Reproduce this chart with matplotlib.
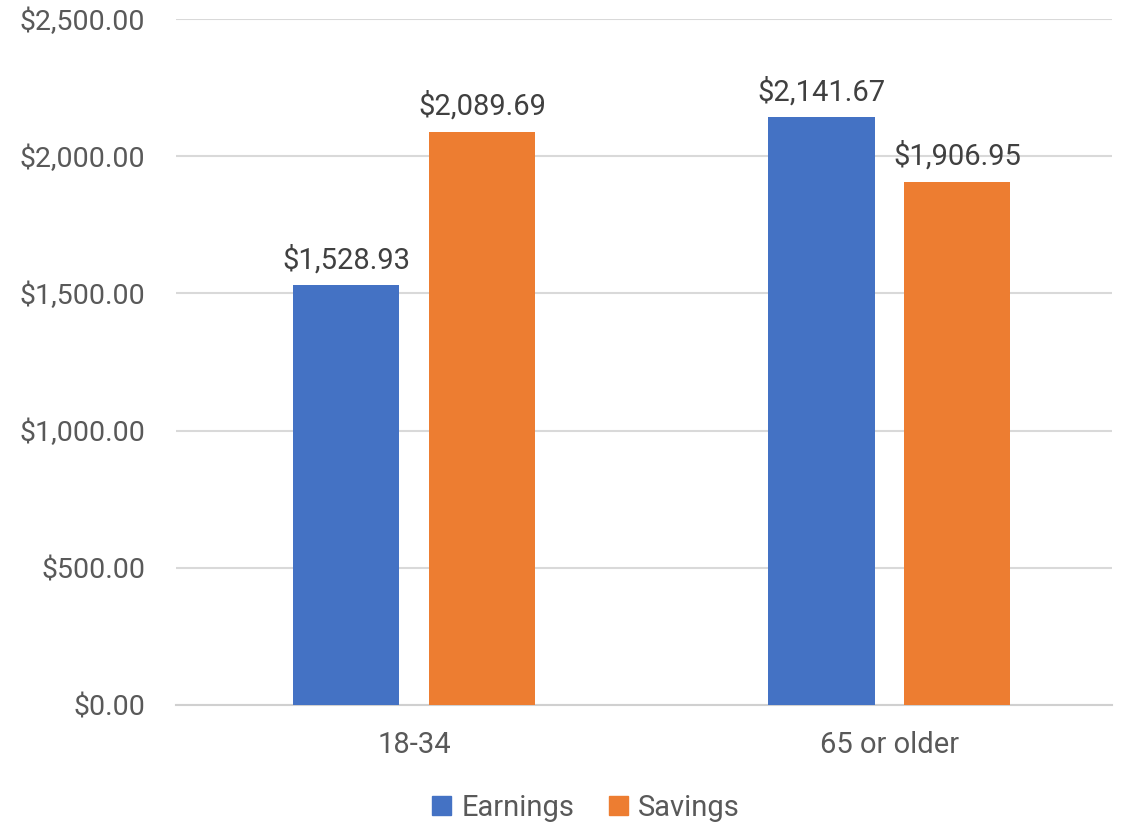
import matplotlib.pyplot as plt
import numpy as np
from matplotlib.ticker import FuncFormatter
from matplotlib.patches import Patch

plt.rcParams['font.family'] = ['Roboto', 'DejaVu Sans']

categories = ['18-34', '65 or older']
earnings = [1528.93, 2141.67]
savings = [2089.69, 1906.95]

blue = '#4472c4'
orange = '#ed7d31'
text_col = '#595959'

fig = plt.figure(figsize=(11.35, 8.22), dpi=100)
ax = fig.add_axes([0.155, 0.1423, 0.825, 0.8346])

x = np.arange(len(categories))
w = 0.2237
off = 0.1426
b1 = ax.bar(x - off, earnings, w, color=blue, label='Earnings', zorder=3)
b2 = ax.bar(x + off, savings, w, color=orange, label='Savings', zorder=3)

for bars, vals in [(b1, earnings), (b2, savings)]:
    for bar, v in zip(bars, vals):
        ax.annotate(f'${v:,.2f}', (bar.get_x() + bar.get_width() / 2, v),
                    xytext=(0, 8), textcoords='offset points',
                    ha='center', va='bottom', fontsize=21, color='#404040')

ax.set_ylim(0, 2500)
ax.set_xlim(-0.501, 1.469)
ax.set_yticks(np.arange(0, 2501, 500))
ax.yaxis.set_major_formatter(FuncFormatter(lambda v, p: f'${v:,.2f}'))
ax.set_xticks(x)
ax.set_xticklabels(categories)
ax.tick_params(axis='y', length=0, pad=22, labelsize=20.5, labelcolor=text_col)
ax.tick_params(axis='x', length=0, pad=19, labelsize=21, labelcolor=text_col)
ax.grid(axis='y', color='#d9d9d9', linewidth=1.5, zorder=0)
for s in ['top', 'right', 'left']:
    ax.spines[s].set_visible(False)
ax.spines['bottom'].set_color('#d0d0d0')
ax.spines['bottom'].set_linewidth(1.5)

handles = [Patch(color=blue, label='Earnings'), Patch(color=orange, label='Savings')]
fig.legend(handles=handles, loc='center', bbox_to_anchor=(586 / 1135, 1 - 808 / 822),
           ncol=2, frameon=False, fontsize=21, handlelength=0.65, handleheight=0.65,
           handletextpad=0.35, columnspacing=1.2, labelcolor=text_col)

fig.savefig('out.png', dpi=100)
